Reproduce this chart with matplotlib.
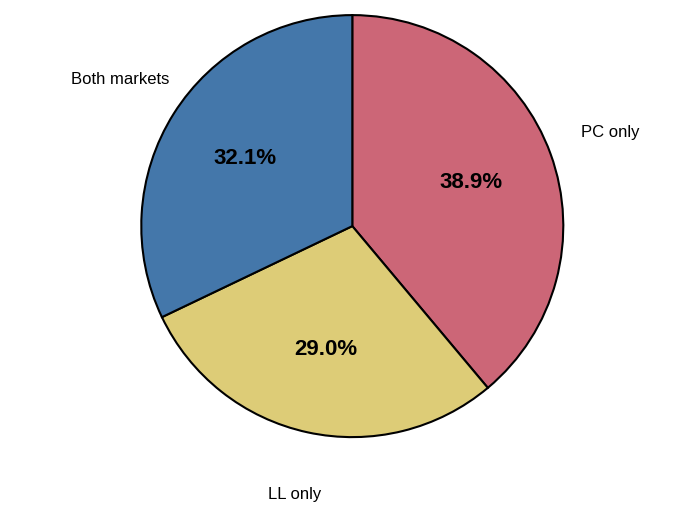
import matplotlib
matplotlib.use("Agg")
import matplotlib.pyplot as plt

plt.rcParams['font.family'] = ['Liberation Sans', 'DejaVu Sans']

labels = ["PC only", "LL only", "Both markets"]
values = [38.9, 29.0, 32.1]
colors = ["#CC6677", "#DDCC77", "#4477AA"]

fig = plt.figure(figsize=(6.99, 5.21), dpi=100)
ax = fig.add_axes([0.202, 0.161, 0.604, 0.81])
wedges, texts, autotexts = ax.pie(
    values, labels=labels, colors=colors, startangle=90, counterclock=False,
    autopct="%.1f%%", pctdistance=0.6, labeldistance=1.3,
    wedgeprops=dict(edgecolor="black", linewidth=1.5),
    textprops=dict(fontsize=12))
for t in texts:
    t.set_ha("center")
    t.set_clip_on(False)
for t in autotexts:
    t.set_fontsize(16)
    t.set_fontweight("bold")
ax.set_xlim(-1.0, 1.0)
ax.set_ylim(-1.0, 1.0)
ax.set_aspect("equal")
fig.savefig("out.png", dpi=100)
